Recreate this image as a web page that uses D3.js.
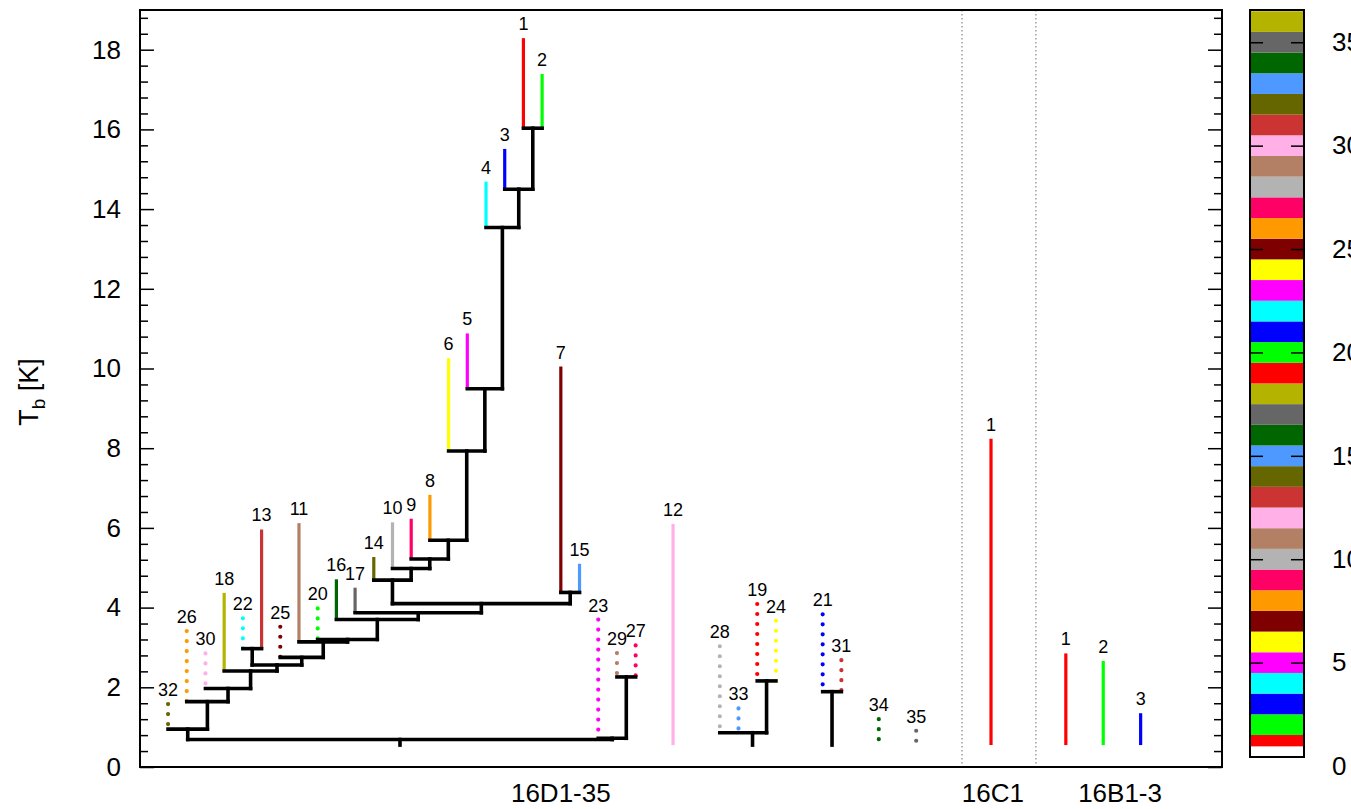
<!DOCTYPE html>
<html>
<head>
<meta charset="utf-8">
<script src="https://cdn.jsdelivr.net/npm/d3@7"></script>
<style>
  body { margin: 0; background: #fff; }
  text { font-family: "Liberation Sans", Arial, Helvetica, sans-serif; fill: #000; }
</style>
</head>
<body>
<div id="chart"></div>
<script>
// ---- data ----
// 16D1-35 leaves, index = id - 1
const peakD = [18.29, 17.39, 15.51, 14.69, 10.88, 10.26, 10.05, 6.83, 6.23, 6.14,
               6.12, 6.10, 5.96, 5.27, 5.10, 4.71, 4.50, 4.37, 4.09, 3.98,
               3.83, 3.73, 3.70, 3.67, 3.52, 3.41, 3.05, 3.03, 2.86, 2.85,
               2.68, 1.58, 1.47, 1.20, 0.91];
const slotD = [19, 20, 18, 17, 16, 15, 21, 14, 13, 12,
               7, 27, 5, 11, 22, 9, 10, 3, 31.5, 8,
               35, 4, 23, 32.5, 6, 1, 25, 29.5, 24, 2,
               36, 0, 30.5, 38, 40];

// merges (bottom up): children are leaf ids or earlier merge names
const mergeIds = ["n1", "n2", "n3", "n4", "n5", "n6", "n7", "n8", "n9", "n10",
                  "n11", "n12", "n13", "n14", "n15", "n16", "n17", "n18", "n19", "n20",
                  "n21", "n22", "n23", "n24", "n25", "n26", "n27", "n28"];
const mergeKids = [[1, 2], [3, "n1"], [4, "n2"], [5, "n3"], [6, "n4"], [8, "n5"], [9, "n6"], [10, "n7"], [14, "n8"], [7, 15],
                   ["n9", "n10"], [17, "n11"], [16, "n12"], [20, "n13"], [11, "n14"], [25, "n15"], [22, 13], ["n17", "n16"], [18, "n18"], [30, "n19"],
                   [26, "n20"], [32, "n21"], [29, 27], [23, "n23"], ["n22", "n24"], [19, 24], [28, 33, "n26"], [21, 31]];
const mergeHeights = [16.03, 14.50, 13.54, 9.49, 7.93, 5.69, 5.22, 4.98, 4.69, 4.38,
                      4.10, 3.87, 3.70, 3.20, 3.14, 2.75, 2.97, 2.56, 2.41, 1.97,
                      1.64, 0.95, 2.26, 0.72, 0.69, 2.16, 0.86, 1.89];

// 16C1 and 16B1-3
const peakC = [8.24];
const slotC = [44];
const peakB = [2.85, 2.66, 1.35];
const slotB = [48, 50, 52];

const groupNames = ["16D1-35", "16C1", "16B1-3"];
const groupSlots = [21, 44.1, 50.9];
const groupEdges = [42.45, 46.4];

const baseLevel = 0.55;
const palette = ["#ff0000", "#00ff00", "#0000ff", "#00ffff", "#ff00ff", "#ffff00",
                 "#7f0000", "#ff9900", "#ff0066", "#b3b3b3", "#b38066", "#ffb0e6",
                 "#cc3333", "#666600", "#4d99ff", "#006600", "#666666", "#b3b300"];
const yTicks = d3.range(0, 19, 2);
const cbTicks = d3.range(0, 36, 5);
const cbLevels = d3.range(0, 37);

// ---- layout ----
const W = 1351, H = 809;
const L = 140, R = 1222, T = 10, B = 767;
const svg = d3.select("#chart").append("svg").attr("width", W).attr("height", H);

const x = d3.scaleLinear().domain([-1.5, 56.35]).range([L, R]);
const y = d3.scaleLinear().domain([0, 19]).range([B, B - 19 * 39.85]);
const colorOf = id => palette[(id - 1) % 18];

// build tree nodes
const nodes = {};
peakD.forEach((p, i) => { nodes[i + 1] = { id: i + 1, top: p, x: x(slotD[i]), leaf: true }; });
mergeIds.forEach((id, i) => {
  const kids = mergeKids[i].map(k => nodes[k]);
  const n = kids.length;
  const node = { id, top: mergeHeights[i], x: (kids[n - 2].x + kids[n - 1].x) / 2, kids, leaf: false };
  kids.forEach(k => { k.parent = node; });
  nodes[id] = node;
});
const leaves = d3.range(1, 36).map(i => nodes[i]);
const inner = mergeIds.map(id => nodes[id]);

// separators
svg.append("g").selectAll("line").data(groupEdges).join("line")
  .attr("x1", d => x(d)).attr("x2", d => x(d))
  .attr("y1", T).attr("y2", B)
  .attr("stroke", "#888").attr("stroke-width", 1.2)
  .attr("stroke-dasharray", "1.5,2.5");

// coloured leaves of 16D1-35
const leafG = svg.append("g");
leafG.selectAll("line").data(leaves).join("line")
  .attr("x1", d => d.x).attr("x2", d => d.x)
  .attr("y1", d => y(d.top))
  .attr("y2", d => y(d.parent ? d.parent.top : baseLevel))
  .attr("stroke", d => colorOf(d.id))
  .attr("stroke-width", d => d.id > 18 ? 4.2 : 3.2)
  .attr("stroke-linecap", d => d.id > 18 ? "round" : "butt")
  .attr("stroke-dasharray", d => d.id > 18 ? "0,10" : null);

// black links
const links = [];
inner.forEach(n => {
  const xs = n.kids.map(k => k.x);
  links.push([d3.min(xs), y(n.top), d3.max(xs), y(n.top)]);
  n.kids.filter(k => !k.leaf).forEach(k => links.push([k.x, y(k.top), k.x, y(n.top)]));
  if (!n.parent) links.push([n.x, y(n.top), n.x, y(baseLevel)]);
});
svg.append("g").selectAll("line").data(links).join("line")
  .attr("x1", d => d[0]).attr("y1", d => d[1])
  .attr("x2", d => d[2]).attr("y2", d => d[3])
  .attr("stroke", "#000").attr("stroke-width", 3.6)
  .attr("stroke-linecap", "square");

// 16C1 and 16B1-3 single peaks
const others = peakC.map((p, i) => ({ id: i + 1, top: p, x: x(slotC[i]) }))
  .concat(peakB.map((p, i) => ({ id: i + 1, top: p, x: x(slotB[i]) })));
svg.append("g").selectAll("line").data(others).join("line")
  .attr("x1", d => d.x).attr("x2", d => d.x)
  .attr("y1", d => y(d.top)).attr("y2", y(baseLevel))
  .attr("stroke", d => colorOf(d.id)).attr("stroke-width", 3.2);

// leaf labels
svg.append("g").selectAll("text").data(leaves.concat(others)).join("text")
  .attr("x", d => d.x).attr("y", d => y(d.top) - 8)
  .attr("text-anchor", "middle").attr("font-size", 18)
  .text(d => d.id);

// axes
const yAxisL = svg.append("g").attr("transform", `translate(${L},0)`)
  .call(d3.axisLeft(y).tickValues(yTicks).tickSize(-14).tickPadding(19).tickFormat(d3.format("d")));
const yAxisR = svg.append("g").attr("transform", `translate(${R},0)`)
  .call(d3.axisRight(y).tickValues(yTicks).tickSize(-14).tickFormat(""));
const minor = d3.range(0, 48).filter(i => i % 5 !== 0).map(i => i * 0.4);
svg.append("g").attr("transform", `translate(${L},0)`)
  .call(d3.axisLeft(y).tickValues(minor).tickSize(-8).tickFormat(""));
svg.append("g").attr("transform", `translate(${R},0)`)
  .call(d3.axisRight(y).tickValues(minor).tickSize(-8).tickFormat(""));
svg.selectAll(".domain").remove();
svg.selectAll(".tick line").attr("stroke-width", 1.5);
yAxisL.selectAll("text").attr("font-size", 26).attr("font-family", null);

svg.append("rect").attr("x", L).attr("y", T).attr("width", R - L).attr("height", B - T)
  .attr("fill", "none").attr("stroke", "#000").attr("stroke-width", 2);

// axis title
svg.append("text").attr("transform", "translate(38,392) rotate(-90)")
  .attr("text-anchor", "middle").attr("font-size", 27)
  .call(t => {
    t.append("tspan").text("T");
    t.append("tspan").attr("font-size", 19).attr("dy", 7).text("b");
    t.append("tspan").attr("dy", -7).text(" [K]");
  });

// group names
svg.append("g").selectAll("text").data(groupNames).join("text")
  .attr("x", (d, i) => x(groupSlots[i])).attr("y", 802)
  .attr("text-anchor", "middle").attr("font-size", 26)
  .text(d => d);

// colour bar
const cbL = 1250, cbR = 1304, cbTop = 10, cbBot = 757;
const cb = d3.scaleLinear().domain([0, 36.56]).range([766, cbTop]);
const cbLo = cb.invert(cbBot);
const bands = cbLevels.map(v => ({
  v,
  lo: v === 0 ? cbLo : (v === 1 ? 0.95 : v - 0.5),
  hi: v === 0 ? 0.95 : Math.min(v + 0.5, 36.56)
}));
svg.append("g").selectAll("rect").data(bands).join("rect")
  .attr("x", cbL).attr("width", cbR - cbL)
  .attr("y", d => cb(d.hi)).attr("height", d => cb(d.lo) - cb(d.hi))
  .attr("fill", d => d.v === 0 ? "#fff" : colorOf(d.v));
const cbAxR = svg.append("g").attr("transform", `translate(${cbR},0)`)
  .call(d3.axisRight(cb).tickValues(cbTicks).tickSize(-13).tickPadding(28).tickFormat(d3.format("d")));
const cbAxL = svg.append("g").attr("transform", `translate(${cbL},0)`)
  .call(d3.axisLeft(cb).tickValues(cbTicks).tickSize(-13).tickFormat(""));
[cbAxR, cbAxL].forEach(g => {
  g.select(".domain").remove();
  g.selectAll(".tick line").attr("stroke-width", 1.5);
  g.selectAll(".tick").filter(d => d === 0).select("line").remove();
});
cbAxR.selectAll("text").attr("font-size", 26).attr("font-family", null);
svg.append("rect").attr("x", cbL).attr("y", cbTop).attr("width", cbR - cbL).attr("height", cbBot - cbTop)
  .attr("fill", "none").attr("stroke", "#000").attr("stroke-width", 2);
</script>
</body>
</html>
